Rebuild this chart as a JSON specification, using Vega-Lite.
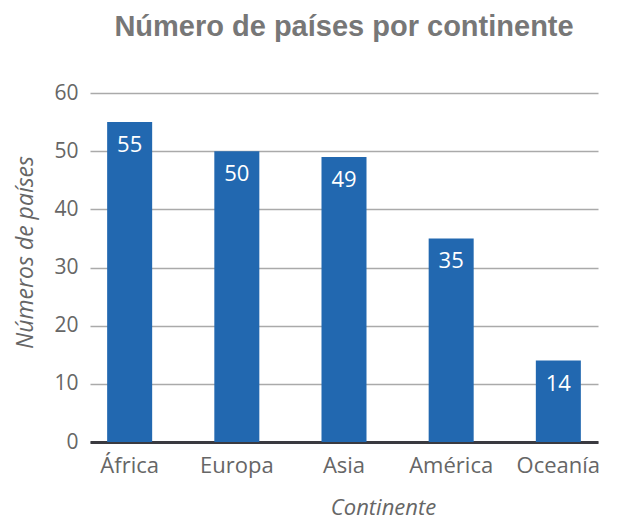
{
  "$schema": "https://vega.github.io/schema/vega-lite/v6.json",
  "autosize": {"type": "none"},
  "width": 508,
  "height": 349,
  "padding": {"left": 90, "top": 93, "right": 25, "bottom": 79},
  "background": "white",
  "title": {
    "text": "Número de países por continente",
    "font": "Liberation Sans",
    "fontSize": 29,
    "fontWeight": "bold",
    "color": "#777777",
    "offset": 40,
    "anchor": "middle"
  },
  "config": {"view": {"stroke": null}},
  "data": {
    "values": [
      {"continente": "África", "paises": 55},
      {"continente": "Europa", "paises": 50},
      {"continente": "Asia", "paises": 49},
      {"continente": "América", "paises": 35},
      {"continente": "Oceanía", "paises": 14}
    ]
  },
  "encoding": {
    "x": {
      "field": "continente",
      "type": "nominal",
      "sort": null,
      "scale": {"paddingInner": 0.58, "paddingOuter": 0.16},
      "axis": {
        "title": "Continente",
        "titleFont": "Open Sans",
        "titleFontStyle": "italic",
        "titleFontWeight": "normal",
        "titleFontSize": 22,
        "titleColor": "#666666",
        "titleX": 293,
        "titlePadding": 21,
        "labelFont": "Open Sans",
        "labelFontSize": 22,
        "labelColor": "#666666",
        "labelAngle": 0,
        "labelPadding": 13,
        "ticks": false,
        "domainColor": "#3a3a40",
        "domainWidth": 3
      }
    },
    "y": {
      "field": "paises",
      "type": "quantitative",
      "scale": {"domain": [0, 60]},
      "axis": {
        "title": "Números de países",
        "titleFont": "Open Sans",
        "titleFontStyle": "italic",
        "titleFontWeight": "normal",
        "titleFontSize": 23,
        "titleColor": "#666666",
        "titlePadding": 16,
        "titleY": 159,
        "labelFont": "Open Sans",
        "labelFontSize": 21,
        "labelColor": "#666666",
        "labelPadding": 12,
        "labelOverlap": false,
        "values": [0, 10, 20, 30, 40, 50, 60],
        "ticks": false,
        "domain": false,
        "gridColor": "#aaaaaa",
        "gridWidth": 1.5
      }
    }
  },
  "layer": [
    {"mark": {"type": "bar", "color": "#2268b0"}},
    {
      "mark": {
        "type": "text",
        "color": "white",
        "font": "Open Sans",
        "fontSize": 22,
        "baseline": "top",
        "dy": 13
      },
      "encoding": {"text": {"field": "paises", "type": "quantitative"}}
    }
  ]
}
